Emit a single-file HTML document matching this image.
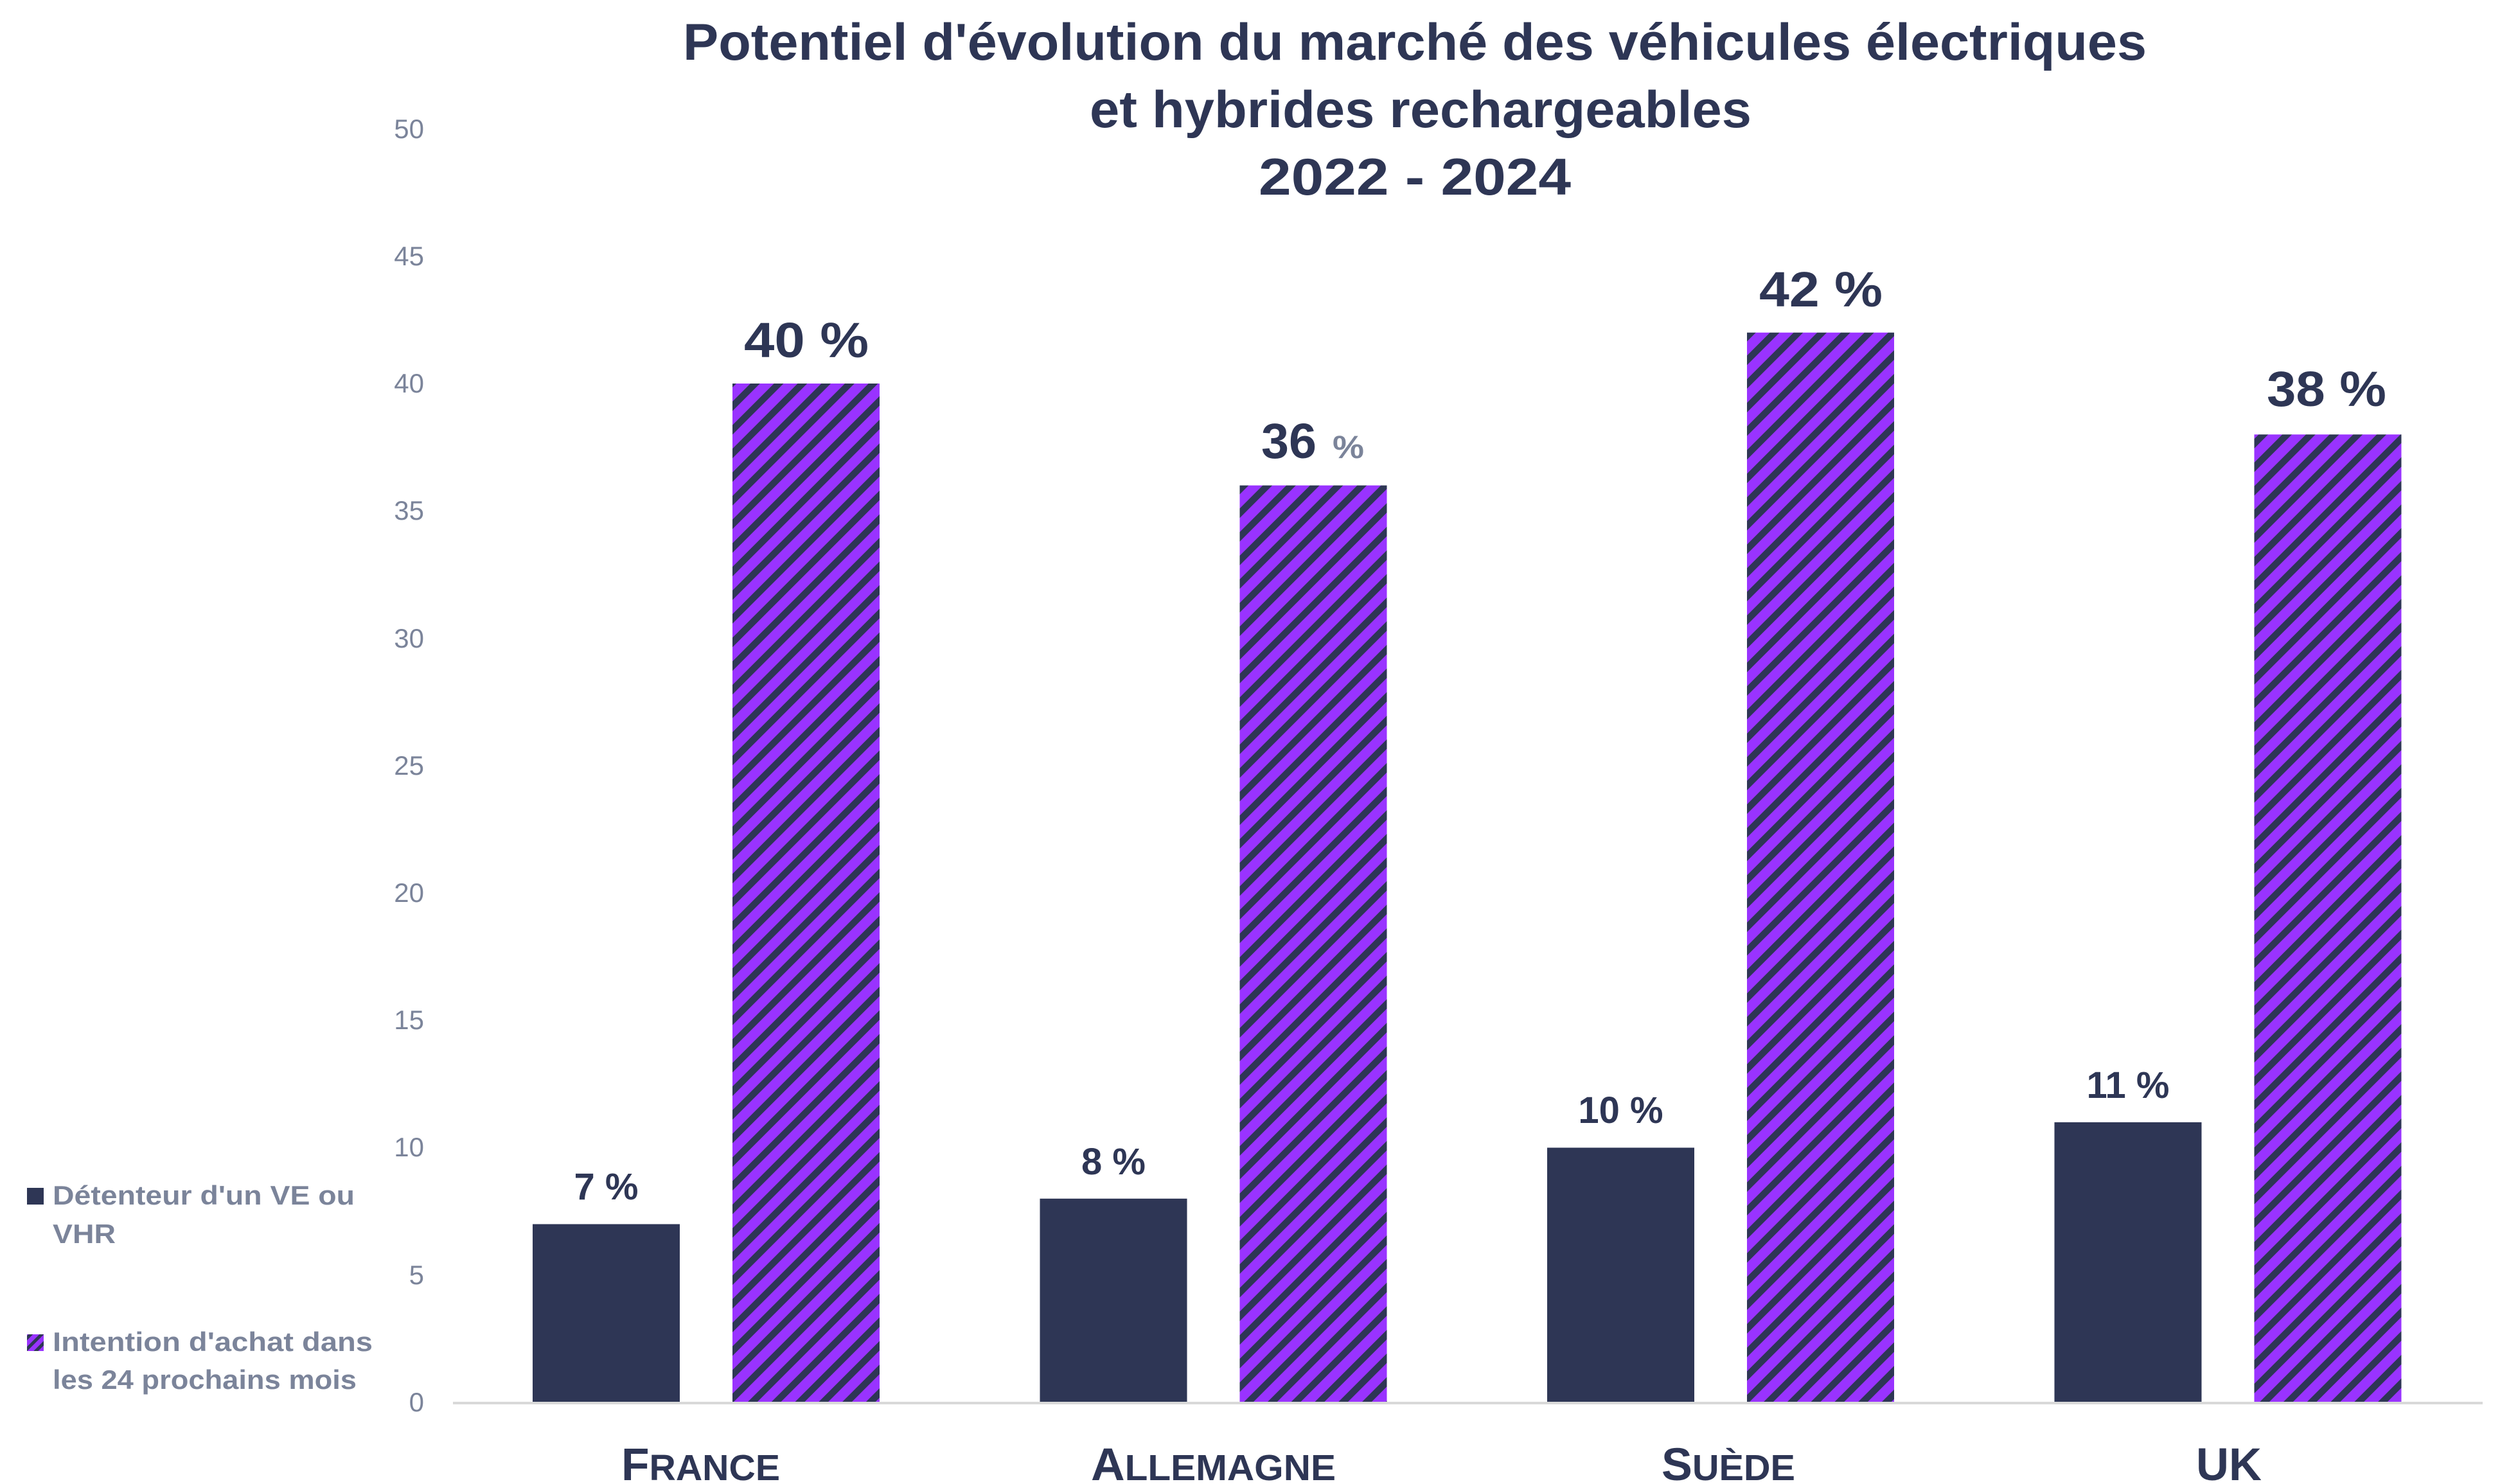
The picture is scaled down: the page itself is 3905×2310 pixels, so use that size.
<!DOCTYPE html>
<html>
<head>
<meta charset="utf-8">
<style>
  html, body { margin:0; padding:0; background:#ffffff; }
  svg { display:block; }
  text { font-family: "Liberation Sans", "DejaVu Sans", sans-serif; }
</style>
</head>
<body>
<svg xmlns="http://www.w3.org/2000/svg" width="3905" height="2310" viewBox="0 0 3905 2310">
  <defs>
    <pattern id="h" patternUnits="userSpaceOnUse" width="26" height="26" patternTransform="rotate(45)">
      <rect width="26" height="26" fill="#9933FF"/>
      <rect width="10.5" height="26" fill="#2E3655"/>
    </pattern>
    <pattern id="hs" patternUnits="userSpaceOnUse" width="12" height="12" patternTransform="rotate(45)">
      <rect width="12" height="12" fill="#9933FF"/>
      <rect width="5" height="12" fill="#2E3655"/>
    </pattern>
  </defs>
  <rect width="3905" height="2310" fill="#ffffff"/>

  <!-- Title -->
  <g fill="#2E3655" font-weight="bold" font-size="81">
    <text x="1063" y="93" textLength="2278" lengthAdjust="spacingAndGlyphs">Potentiel d'évolution du marché des véhicules électriques</text>
    <text x="1696" y="198" textLength="1030" lengthAdjust="spacingAndGlyphs">et hybrides rechargeables</text>
    <text x="1959" y="303" textLength="486" lengthAdjust="spacingAndGlyphs">2022 - 2024</text>
  </g>

  <!-- Y axis labels -->
  <g fill="#7B849A" font-size="42" text-anchor="end">
    <text x="660" y="2197">0</text>
    <text x="660" y="1999">5</text>
    <text x="660" y="1800">10</text>
    <text x="660" y="1602">15</text>
    <text x="660" y="1404">20</text>
    <text x="660" y="1206">25</text>
    <text x="660" y="1008">30</text>
    <text x="660" y="809">35</text>
    <text x="660" y="611">40</text>
    <text x="660" y="413">45</text>
    <text x="660" y="215">50</text>
  </g>

  <!-- Bars: dark -->
  <g fill="#2E3655">
    <rect x="829" y="1905.5" width="229" height="277.5"/>
    <rect x="1618.5" y="1865.8" width="229" height="317.2"/>
    <rect x="2408" y="1786.5" width="229" height="396.5"/>
    <rect x="3197.5" y="1746.9" width="229" height="436.1"/>
  </g>
  <!-- Bars: hatched -->
  <g fill="url(#h)">
    <rect x="1140" y="597" width="229" height="1586"/>
    <rect x="1929.5" y="755.6" width="229" height="1427.4"/>
    <rect x="2719" y="517.7" width="229" height="1665.3"/>
    <rect x="3508.5" y="676.3" width="229" height="1506.7"/>
  </g>

  <!-- Axis line -->
  <rect x="705" y="2182" width="3159" height="4" fill="#D9D9D9"/>

  <!-- Data labels dark -->
  <g fill="#2E3655" font-weight="bold" font-size="58" text-anchor="middle">
    <text x="943.5" y="1867">7 %</text>
    <text x="1733" y="1828">8 %</text>
    <text x="2522.5" y="1748">10 %</text>
    <text x="3312" y="1709">11 %</text>
  </g>
  <!-- Data labels hatched -->
  <g fill="#2E3655" font-weight="bold" font-size="77">
    <text x="1158" y="556" textLength="194" lengthAdjust="spacingAndGlyphs">40 %</text>
    <text x="1963" y="713" textLength="86" lengthAdjust="spacingAndGlyphs">36</text>
    <text x="2074" y="713" fill="#7B849A" font-size="50" textLength="49" lengthAdjust="spacingAndGlyphs">%</text>
    <text x="2738" y="477" textLength="192" lengthAdjust="spacingAndGlyphs">42 %</text>
    <text x="3528" y="632" textLength="186" lengthAdjust="spacingAndGlyphs">38 %</text>
  </g>

  <!-- Category labels -->
  <g fill="#2E3655" font-weight="bold">
    <text x="967" y="2304" textLength="247" lengthAdjust="spacingAndGlyphs"><tspan font-size="71">F</tspan><tspan font-size="57">RANCE</tspan></text>
    <text x="1698" y="2304" textLength="381" lengthAdjust="spacingAndGlyphs"><tspan font-size="71">A</tspan><tspan font-size="57">LLEMAGNE</tspan></text>
    <text x="2586" y="2304" textLength="208" lengthAdjust="spacingAndGlyphs"><tspan font-size="71">S</tspan><tspan font-size="57">UÈDE</tspan></text>
    <text x="3418" y="2304" font-size="71" textLength="102" lengthAdjust="spacingAndGlyphs">UK</text>
  </g>

  <!-- Legend -->
  <rect x="42" y="1849" width="26" height="26" fill="#2E3655"/>
  <rect x="42" y="2077" width="26" height="26" fill="url(#hs)"/>
  <g fill="#7B849A" font-weight="bold" font-size="42">
    <text x="82" y="1875" textLength="470" lengthAdjust="spacingAndGlyphs">Détenteur d'un VE ou</text>
    <text x="82" y="1935" textLength="98" lengthAdjust="spacingAndGlyphs">VHR</text>
    <text x="82" y="2103" textLength="498" lengthAdjust="spacingAndGlyphs">Intention d'achat dans</text>
    <text x="82" y="2162" textLength="473" lengthAdjust="spacingAndGlyphs">les 24 prochains mois</text>
  </g>
</svg>
</body>
</html>
